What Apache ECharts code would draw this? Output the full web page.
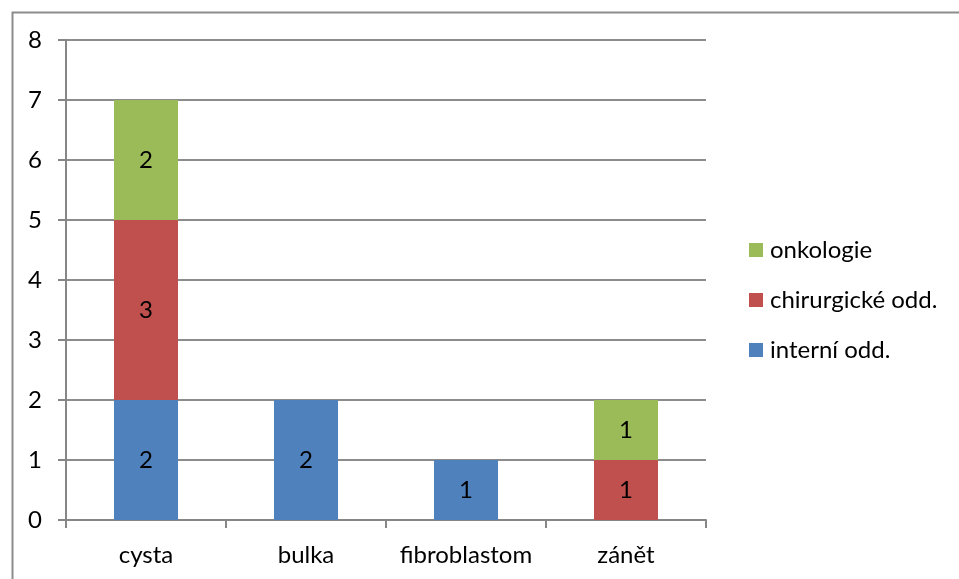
<!DOCTYPE html>
<html>
<head>
<meta charset="utf-8">
<script src="https://cdn.jsdelivr.net/npm/echarts@6/dist/echarts.min.js"></script>
<style>html,body{margin:0;padding:0;background:#fff}#c{width:959px;height:579px}</style>
</head>
<body>
<div id="c"></div>
<script>
const categories = ['cysta', 'bulka', 'fibroblastom', 'zánět'];
const interni = [2, 2, 1, null];
const chirurgicke = [3, null, null, 1];
const onkologie = [2, null, null, 1];
const seriesNames = ['interní odd.', 'chirurgické odd.', 'onkologie'];
const legendOrder = ['onkologie', 'chirurgické odd.', 'interní odd.'];
const yTicks = [0, 1, 2, 3, 4, 5, 6, 7, 8];

const FONT = 'Lato';
const FS = 24;
const chart = echarts.init(document.getElementById('c'), null, {renderer: 'canvas'});
const label = {show: true, position: 'inside', color: '#000', fontFamily: FONT, fontSize: FS};
const mk = (name, data, color) => ({
  name, type: 'bar', stack: 'a', data, barWidth: 64,
  itemStyle: {color}, label, emphasis: {disabled: true}
});
chart.setOption({
  animation: false,
  graphic: [{type: 'rect', left: 10, top: 10, shape: {width: 1000, height: 1000},
    style: {fill: 'none', stroke: '#8c8c8c', lineWidth: 2}, silent: true}],
  grid: {left: 66, right: 253, top: 40, bottom: 59},
  legend: {
    orient: 'vertical', left: 749, top: 238, padding: 0, itemWidth: 14, itemHeight: 14, itemGap: 26,
    data: legendOrder, icon: 'rect',
    textStyle: {fontFamily: FONT, fontSize: FS, color: '#000', lineHeight: 24, padding: [0, 0, 0, 2]}
  },
  xAxis: {
    type: 'category', data: categories,
    axisLine: {lineStyle: {color: '#868686', width: 2}},
    axisTick: {show: true, interval: 0, length: 8, lineStyle: {color: '#868686', width: 2}},
    axisLabel: {interval: 0, fontFamily: FONT, fontSize: FS, color: '#000', margin: 23}
  },
  yAxis: {
    type: 'value', min: yTicks[0], max: yTicks[yTicks.length - 1], interval: 1,
    axisLine: {show: true, lineStyle: {color: '#868686', width: 2}},
    axisTick: {show: true, length: 8, lineStyle: {color: '#868686', width: 2}},
    splitLine: {lineStyle: {color: '#8c8c8c', width: 2}},
    axisLabel: {fontFamily: FONT, fontSize: FS, color: '#000', margin: 24}
  },
  series: [
    mk(seriesNames[0], interni, '#4F81BD'),
    mk(seriesNames[1], chirurgicke, '#C0504D'),
    mk(seriesNames[2], onkologie, '#9BBB59')
  ]
});
</script>
</body>
</html>
